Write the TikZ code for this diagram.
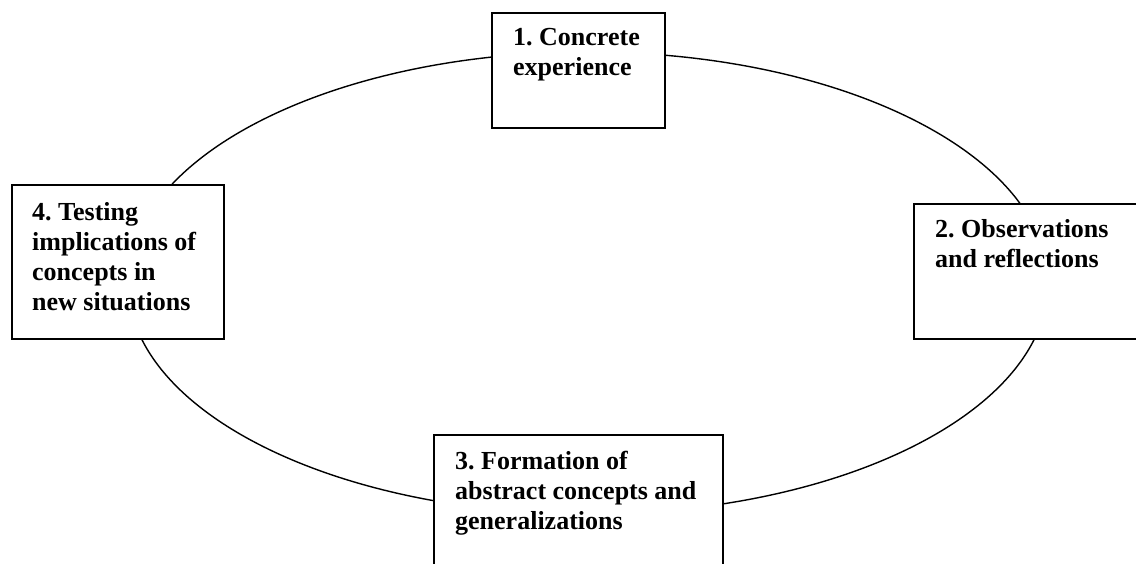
\documentclass[tikz,border=0pt]{standalone}
\usepackage{fontspec}
\setmainfont{Liberation Serif}
\usetikzlibrary{shapes.geometric}
\frenchspacing
\begin{document}
\begin{tikzpicture}[x=1pt,y=-1pt,
  stagebox/.style={draw=black,line width=2pt,fill=white,anchor=north west,inner sep=0pt},
  stagetext/.style={anchor=base west,align=left,inner sep=0pt,
    font=\bfseries\fontsize{26}{30}\selectfont},
  cycleline/.style={draw=black,line width=1.4pt}]
\useasboundingbox (0,0) rectangle (1136,564);
\clip (0,0) rectangle (1136,564);
\node[cycleline,ellipse,minimum width=920pt,minimum height=462pt,inner sep=0pt] (cyc) at (588,283) {};
\node[stagebox,minimum width=173pt,minimum height=115pt] (b1) at (491,12) {};
\node[stagebox,minimum width=240pt,minimum height=135pt] (b2) at (913,203) {};
\node[stagebox,minimum width=289pt,minimum height=150pt] (b3) at (433,434) {};
\node[stagebox,minimum width=212pt,minimum height=154pt] (b4) at (11,184) {};
\node[stagetext] (t1) at (513,76) {1. Concrete\\experience};
\node[stagetext] (t2) at (935,268) {2. Observations\\and reflections};
\node[stagetext] (t3) at (455,529) {3. Formation of\\abstract concepts and\\generalizations};
\node[stagetext] (t4) at (32,311) {4. Testing\\implications of\\concepts in\\new situations};
\end{tikzpicture}
\end{document}
